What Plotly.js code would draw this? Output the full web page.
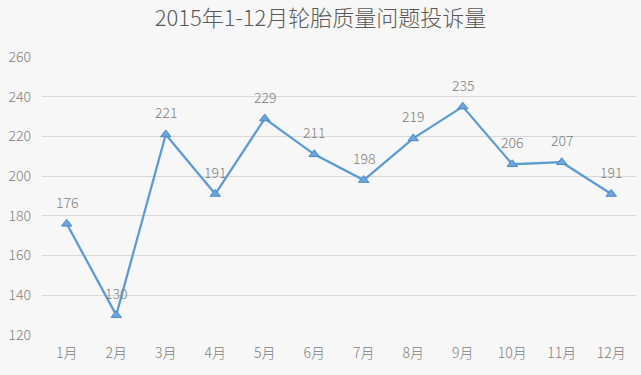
<!DOCTYPE html>
<html><head><meta charset="utf-8">
<script src="https://cdn.plot.ly/plotly-3.0.1.min.js"></script>
<style>html,body{margin:0;padding:0;background:#f7f7f7;}#chart{width:641px;height:375px;}</style>
</head><body><div id="chart"></div>
<script>
var months = ['1月','2月','3月','4月','5月','6月','7月','8月','9月','10月','11月','12月'];
var complaints = [176,130,221,191,229,211,198,219,235,206,207,191];
var yTicks = [120,140,160,180,200,220,240,260];
var titleText = '2015年1-12月轮胎质量问题投诉量';

var font = '"Noto Sans CJK SC", "Noto Sans", sans-serif';
var trace = {
  x: months, y: complaints, type: 'scatter', mode: 'lines+markers',
  line: {color: '#5b9bd5', width: 2.25},
  marker: {symbol: 'triangle-up', size: 9, color: '#6aa6dc', line: {color: '#4a89c8', width: 1}},
  hoverinfo: 'none'
};
var annotations = months.map(function(m, i){
  return {x: m, y: complaints[i], text: String(complaints[i]), showarrow: false,
    yshift: 22, font: {family: font, size: 14, color: '#808080', weight: 300}};
});
var layout = {
  width: 641, height: 375,
  paper_bgcolor: '#f7f7f7', plot_bgcolor: '#f7f7f7',
  margin: {l: 42, r: 5, t: 57, b: 40},
  title: {text: titleText, font: {family: font, size: 22, color: '#595959', weight: 300}, x: 0.5, xanchor: 'center', y: 0.95, yanchor: 'middle'},
  showlegend: false,
  xaxis: {type: 'category', showgrid: false, zeroline: false, showline: false, ticks: '',
    ticklabelstandoff: 8,
    tickfont: {family: font, size: 14, color: '#808080', weight: 300}, range: [-0.5, 11.5], fixedrange: true},
  yaxis: {range: [120, 260], tickvals: yTicks, showgrid: true, gridcolor: '#d9d9d9', gridwidth: 1,
    zeroline: false, showline: false, ticks: '', ticklen: 0, ticklabelstandoff: 10,
    tickfont: {family: font, size: 14, color: '#808080', weight: 300}, fixedrange: true},
  annotations: annotations
};
Plotly.newPlot('chart', [trace], layout, {displayModeBar: false, staticPlot: true});
</script></body></html>
